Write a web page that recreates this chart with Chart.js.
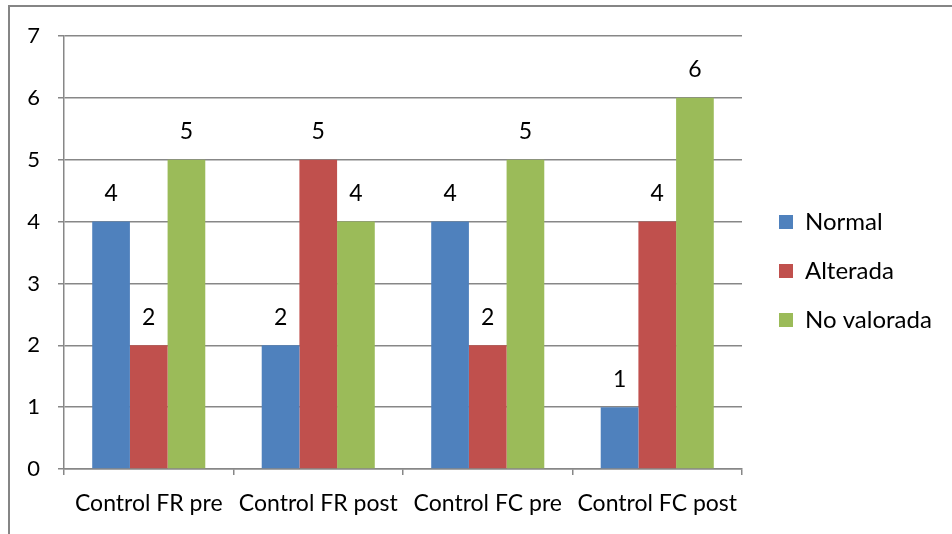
<!DOCTYPE html>
<html>
<head>
<meta charset="utf-8">
<script src="https://cdn.jsdelivr.net/npm/chart.js@4.4.1/dist/chart.umd.min.js"></script>
<style>
  html, body { margin: 0; padding: 0; background: #fff; }
  canvas { display: block; }
</style>
</head>
<body>
<canvas id="c" width="952" height="534"></canvas>
<script>
// Categories and series counts
const categories = ['Control FR pre', 'Control FR post', 'Control FC pre', 'Control FC post'];
const normal = [4, 2, 4, 1];
const alterada = [2, 5, 2, 4];
const noValorada = [5, 4, 5, 6];
const yTicks = [0, 1, 2, 3, 4, 5, 6, 7];

const FONT = 'Lato, "Open Sans", sans-serif';
const GRID = '#878787';

// Outer frame (top and left edges of the chart box)
const framePlugin = {
  id: 'frame',
  beforeDraw(chart) {
    const ctx = chart.ctx;
    ctx.save();
    ctx.strokeStyle = '#858585';
    ctx.lineWidth = 2;
    ctx.beginPath();
    ctx.moveTo(9, chart.height);
    ctx.lineTo(9, 6);
    ctx.lineTo(chart.width, 6);
    ctx.stroke();
    ctx.restore();
  }
};

// Fixed legend column width and offset of its items
const legendWidthPlugin = {
  id: 'legendWidth',
  beforeUpdate(chart) {
    const lg = chart.legend;
    if (lg && !lg._fixedFit) {
      const orig = lg.fit;
      lg.fit = function () { orig.call(this); this.width = 210; };
      lg._fixedFit = true;
    }
  },
  afterLayout(chart) {
    const lg = chart.legend;
    if (lg) {
      lg.left += 12; lg.right += 12;
      lg.top -= 14; lg.bottom -= 14;
    }
  }
};

// Value labels above each bar
const valueLabels = {
  id: 'valueLabels',
  afterDatasetsDraw(chart) {
    const ctx = chart.ctx;
    ctx.save();
    ctx.font = '23px ' + FONT;
    ctx.fillStyle = '#000';
    ctx.textAlign = 'center';
    ctx.textBaseline = 'middle';
    chart.data.datasets.forEach((ds, i) => {
      chart.getDatasetMeta(i).data.forEach((bar, j) => {
        ctx.fillText(String(ds.data[j]), bar.x, bar.y - 28);
      });
    });
    ctx.restore();
  }
};

new Chart(document.getElementById('c'), {
  type: 'bar',
  data: {
    labels: categories,
    datasets: [
      { label: 'Normal', data: normal, backgroundColor: '#4F81BD' },
      { label: 'Alterada', data: alterada, backgroundColor: '#C0504D' },
      { label: 'No valorada', data: noValorada, backgroundColor: '#9BBB59' }
    ]
  },
  options: {
    responsive: false,
    animation: false,
    devicePixelRatio: 1,
    layout: { padding: { top: 36, left: 0, right: 0, bottom: 0 } },
    datasets: { bar: { categoryPercentage: 0.667, barPercentage: 1.0 } },
    plugins: {
      legend: {
        position: 'right',
        labels: {
          font: { family: FONT, size: 24 },
          color: '#000',
          boxWidth: 14,
          boxHeight: 14,
          padding: 25
        }
      },
      tooltip: { enabled: false }
    },
    scales: {
      x: {
        grid: { drawOnChartArea: false, drawTicks: true, tickLength: 6, color: GRID, lineWidth: 1.5, offset: true },
        border: { color: GRID, width: 1.5 },
        ticks: { font: { family: FONT, size: 23 }, color: '#000', padding: 15, maxRotation: 0, autoSkip: false },
        afterFit(scale) { scale.height = 65; }
      },
      y: {
        min: 0,
        max: 7,
        grid: { color: GRID, lineWidth: 1.5, tickLength: 6 },
        border: { color: GRID, width: 1.5 },
        ticks: {
          font: { family: FONT, size: 22 },
          color: '#000',
          padding: 18,
          stepSize: 1,
          callback: (v) => yTicks.includes(v) ? String(v) : ''
        },
        afterFit(scale) { scale.width = 64; }
      }
    }
  },
  plugins: [framePlugin, legendWidthPlugin, valueLabels]
});
</script>
</body>
</html>
